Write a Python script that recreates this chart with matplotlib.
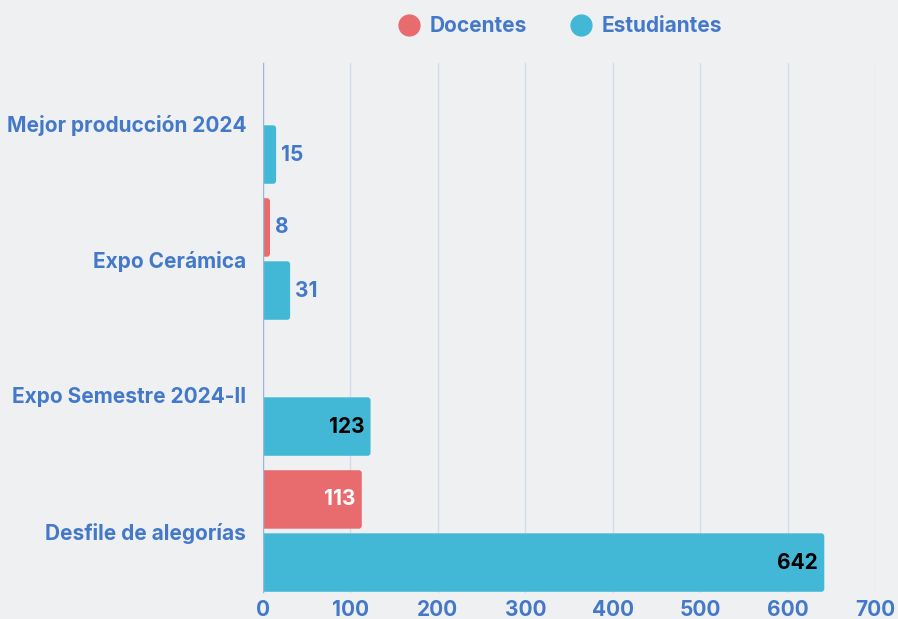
import numpy as np
import matplotlib.pyplot as plt
from matplotlib.lines import Line2D
from matplotlib.patches import FancyBboxPatch

categorias = ["Mejor producción 2024", "Expo Cerámica", "Expo Semestre 2024-II", "Desfile de alegorías"]
docentes = [0, 8, 0, 113]
estudiantes = [15, 31, 123, 642]

c_doc = "#e86b6e"
c_est = "#42b8d6"
c_txt = "#4479c9"
fondo = "#eff0f2"

plt.rcParams['font.family'] = ['Inter', 'DejaVu Sans']

fig = plt.figure(figsize=(8.98, 6.19), dpi=100, facecolor=fondo)
ax = fig.add_axes([263/898, 1-599/619, 612/898, 544/619])
ax.set_facecolor(fondo)

y = np.arange(len(categorias))
h = 0.43
off = 0.232

for x in range(100, 800, 100):
    ax.axvline(x, ymin=0.013, ymax=0.985, color="#d3dce8", lw=1, zorder=0)
ax.axvline(0, ymin=0.013, ymax=0.985, color="#9bb4d8", lw=1, zorder=3)

def barras(pos, vals, color, color_dentro):
    for yc, v in zip(pos, vals):
        if v == 0:
            continue
        p = FancyBboxPatch((-6, yc - h / 2), v + 6, h,
                           boxstyle="round,pad=0,rounding_size=3.4",
                           mutation_aspect=0.0065, color=color, lw=0, zorder=2)
        ax.add_patch(p)
        if v < 60:
            ax.text(v + 6, yc, str(v), ha="left", va="center", color=c_txt,
                    fontsize=15, fontweight="bold")
        else:
            ax.text(v - 7, yc, str(v), ha="right", va="center", color=color_dentro,
                    fontsize=15, fontweight="bold")

barras(y - off, docentes, c_doc, "white")
barras(y + off, estudiantes, c_est, "black")

ax.set_xlim(0, 700)
ax.set_ylim(3.5, -0.5)
ax.set_yticks(y)
ax.set_yticklabels(categorias)
ax.set_xticks(range(0, 800, 100))
ax.tick_params(length=0, labelcolor=c_txt)
ax.tick_params(axis="y", pad=12, labelsize=15)
ax.tick_params(axis="x", pad=1, labelsize=15)
for lab in ax.get_xticklabels() + ax.get_yticklabels():
    lab.set_fontweight("bold")
for s in ax.spines.values():
    s.set_visible(False)

handles = [Line2D([], [], marker="o", ls="", markersize=15, color=c_doc, label="Docentes"),
           Line2D([], [], marker="o", ls="", markersize=15, color=c_est, label="Estudiantes")]
leg = ax.legend(handles=handles, loc="center", bbox_to_anchor=(0.486, 1 + 29/544), ncol=2,
                frameon=False, fontsize=15, handlelength=1.0, handletextpad=0.5,
                columnspacing=2.1)
for t in leg.get_texts():
    t.set_color(c_txt)
    t.set_fontweight("bold")

fig.savefig("out.png", dpi=100, facecolor=fondo)
